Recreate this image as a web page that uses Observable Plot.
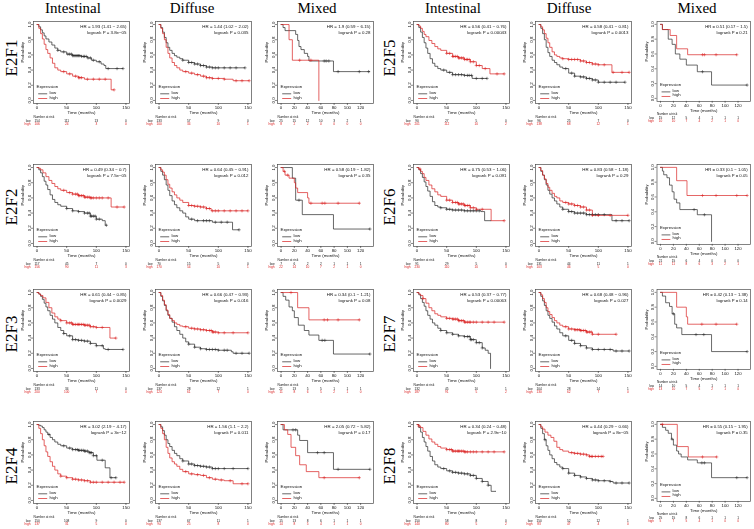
<!DOCTYPE html>
<html><head><meta charset="utf-8">
<script src="https://cdn.jsdelivr.net/npm/d3@7"></script>
<script src="https://cdn.jsdelivr.net/npm/@observablehq/plot@0.6"></script>
<style>
body{margin:0;background:#fff;}
#root{position:relative;width:754px;height:529px;overflow:hidden;background:#fff;}
.hdr{position:absolute;font-family:"Liberation Serif",serif;font-size:15px;transform:translateX(-50%);white-space:nowrap;top:1px;line-height:1;color:#000;}
.gene{position:absolute;font-family:"Liberation Serif",serif;font-size:17px;transform:translate(-50%,-50%) rotate(-90deg);white-space:nowrap;line-height:1;color:#000;}
.panel{position:absolute;will-change:transform;}
</style></head><body><div id="root"></div><script>
// ---------- labels ----------
const genes = ["E2F1","E2F2","E2F3","E2F4","E2F5","E2F6","E2F7","E2F8"];
const subtypes = ["Intestinal","Diffuse","Mixed"];
const yTicks = [0,0.2,0.4,0.6,0.8,1];
const xTicksLong = [0,50,100,150];
const xTicksMixed = [0,20,40,60,80,100,120];

const hrText = [
 ["HR = 1.93 (1.41 − 2.65)","HR = 1.44 (1.02 − 2.02)","HR = 1.9 (0.59 − 6.15)"],
 ["HR = 0.49 (0.34 − 0.7)","HR = 0.64 (0.45 − 0.91)","HR = 0.58 (0.19 − 1.82)"],
 ["HR = 0.61 (0.44 − 0.85)","HR = 0.66 (0.47 − 0.93)","HR = 0.34 (0.1 − 1.21)"],
 ["HR = 3.02 (2.19 − 4.17)","HR = 1.56 (1.1 − 2.2)","HR = 2.05 (0.72 − 5.82)"],
 ["HR = 0.56 (0.41 − 0.76)","HR = 0.58 (0.41 − 0.81)","HR = 0.51 (0.17 − 1.5)"],
 ["HR = 0.75 (0.53 − 1.06)","HR = 0.83 (0.58 − 1.18)","HR = 0.33 (0.1 − 1.05)"],
 ["HR = 0.53 (0.37 − 0.77)","HR = 0.68 (0.48 − 0.96)","HR = 0.42 (0.13 − 1.38)"],
 ["HR = 0.34 (0.24 − 0.48)","HR = 0.44 (0.29 − 0.66)","HR = 0.55 (0.15 − 1.95)"]
];
const pText = [
 ["logrank P = 3.8e−05","logrank P = 0.035","logrank P = 0.28"],
 ["logrank P = 7.5e−05","logrank P = 0.012","logrank P = 0.35"],
 ["logrank P = 0.0029","logrank P = 0.016","logrank P = 0.08"],
 ["logrank P = 3e−12","logrank P = 0.011","logrank P = 0.17"],
 ["logrank P = 0.00043","logrank P = 0.0013","logrank P = 0.21"],
 ["logrank P = 0.091","logrank P = 0.29","logrank P = 0.05"],
 ["logrank P = 0.00063","logrank P = 0.027","logrank P = 0.14"],
 ["logrank P = 2.9e−10","logrank P = 8e−05","logrank P = 0.35"]
];
const riskLow = [
 [[154,111,13,0],[133,57,9,0],[25,15,12,10,3,2,1]],
 [[117,45,7,0],[70,15,5,0],[7,6,2,2,1,1,1]],
 [[133,34,11,0],[137,28,12,1],[21,13,5,5,1,1,1]],
 [[150,108,9,0],[137,67,11,1],[15,13,8,6,1,1,1]],
 [[90,27,5,0],[96,25,7,0],[15,12,5,4,1,1,1]],
 [[91,29,5,0],[131,44,11,1],[21,15,6,4,0,0,0]],
 [[132,45,10,1],[104,28,14,1],[14,10,5,4,1,1,1]],
 [[150,58,8,0],[150,52,12,1],[25,15,8,6,1,1,1]]
];
const riskHigh = [
 [[106,24,3,0],[100,34,10,1],[8,2,2,0,0,0,0]],
 [[156,90,11,3],[170,54,10,1],[22,14,10,7,2,1,0]],
 [[200,100,7,0],[124,61,7,0],[11,8,6,5,2,1,0]],
 [[137,31,5,0],[94,25,8,0],[14,8,5,4,1,1,0]],
 [[201,112,10,2],[138,68,12,1],[10,10,7,4,2,1,0]],
 [[230,110,10,3],[103,46,5,0],[11,11,8,6,3,2,1]],
 [[187,91,5,2],[130,62,7,0],[13,10,7,5,2,1,0]],
 [[140,80,5,2],[83,47,4,0],[5,7,5,4,1,0,0]]
];

// ---------- survival curves: [month, survival] step points; [intestinal, diffuse, mixed] ----------
const E2F1_low = [
 [[0,1],[3,.97],[6,.93],[9,.89],[12,.85],[15,.81],[20,.77],[25,.73],[30,.69],[35,.66],[40,.64],[50,.61],[60,.59],[75,.58],[85,.56],[92,.53],[100,.51],[108,.48],[113,.46],[116,.42],[145,.42]],
 [[0,1],[3,.96],[6,.9],[9,.83],[12,.76],[15,.7],[18,.66],[22,.62],[26,.59],[30,.57],[35,.55],[40,.53],[50,.5],[60,.48],[70,.46],[80,.44],[90,.43],[145,.43]],
 [[0,1],[3,.96],[6,.92],[22,.87],[25,.79],[27,.71],[30,.67],[35,.62],[40,.58],[42,.52],[79,.38],[134,.38]]];
const E2F1_high = [
 [[0,1],[3,.95],[6,.88],[9,.81],[12,.74],[15,.67],[18,.62],[22,.56],[26,.49],[30,.43],[35,.4],[40,.38],[50,.35],[60,.32],[70,.3],[80,.28],[125,.14],[130,.14]],
 [[0,1],[3,.95],[6,.88],[9,.8],[12,.7],[15,.62],[18,.56],[22,.5],[26,.46],[30,.43],[35,.4],[40,.38],[50,.36],[60,.34],[70,.32],[80,.3],[90,.29],[110,.28],[125,.26],[152,.26]],
 [[0,1],[12,.8],[17,.53],[57,0]]];
const E2F1_lowCens = [[35,45,52,55,58,60,62,64,66,68,70,72,75,78,80,83,86,90,95,105,120,135,145],[40,50,55,60,65,70,75,80,85,90,95,100,110,120,130,145],[65,68,72,86,118,132]];
const E2F1_highCens = [[45,55,65,70,72,75,85,95,105,115,130],[45,55,65,75,80,85,90,100,110,130,140,152],[28,45]];

const E2F2_low = [
 [[0,1],[3,.97],[6,.93],[9,.88],[12,.82],[15,.77],[18,.71],[22,.64],[26,.58],[30,.54],[35,.51],[40,.49],[50,.46],[60,.43],[70,.42],[80,.4],[90,.36],[100,.32],[110,.3],[115,.24],[117,.24]],
 [[0,1],[3,.95],[6,.9],[9,.84],[12,.77],[15,.7],[18,.63],[22,.56],[26,.51],[30,.47],[35,.43],[40,.4],[45,.35],[50,.32],[60,.3],[90,.28],[124,.18],[135,.18]],
 [[0,1],[17,.86],[22,.57],[32,.38],[79,.19],[134,.19]]];
const E2F2_high = [
 [[0,1],[3,.99],[6,.97],[10,.93],[15,.88],[20,.83],[25,.79],[30,.75],[35,.72],[40,.7],[50,.67],[60,.65],[70,.63],[80,.61],[90,.6],[125,.48],[147,.48]],
 [[0,1],[3,.97],[6,.94],[9,.9],[12,.84],[15,.78],[18,.73],[22,.68],[26,.64],[30,.6],[35,.57],[40,.54],[50,.5],[60,.49],[70,.48],[80,.46],[88,.43],[150,.43]],
 [[0,1],[3,.95],[6,.9],[12,.86],[20,.8],[22,.73],[25,.67],[40,.6],[42,.53],[118,.53]]];
const E2F2_lowCens = [[50,60,70,80,85,88,90,92,95,98,100,105,117],[55,65,75,80,85,95,105,115,135],[27,134]];
const E2F2_highCens = [[45,55,60,65,68,70,72,75,78,80,82,85,88,90,92,95,100,105,110,120,135,147],[50,55,60,65,70,75,80,85,90,95,100,110,120,130,140,150],[5,10,45,62,66,86,118]];

const E2F3_low = [
 [[0,1],[3,.98],[6,.95],[9,.91],[12,.86],[15,.81],[18,.76],[22,.7],[26,.65],[30,.6],[35,.54],[40,.5],[45,.46],[50,.43],[60,.38],[70,.37],[80,.36],[90,.33],[100,.3],[112,.26],[115,.25],[145,.25]],
 [[0,1],[3,.95],[6,.89],[9,.83],[12,.76],[15,.7],[18,.66],[22,.61],[26,.55],[30,.5],[35,.45],[40,.4],[45,.35],[50,.32],[60,.28],[70,.26],[80,.25],[100,.24],[122,.22],[125,.2],[152,.2]],
 [[0,1],[3,.95],[7,.9],[12,.81],[17,.76],[20,.67],[26,.57],[35,.5],[42,.44],[57,.37],[79,.19],[134,.19]]];
const E2F3_high = [
 [[0,1],[3,.98],[6,.96],[10,.93],[15,.87],[20,.8],[25,.73],[30,.68],[35,.65],[40,.63],[50,.6],[60,.58],[80,.57],[90,.55],[100,.54],[123,.4],[133,.4]],
 [[0,1],[3,.96],[6,.9],[9,.84],[12,.77],[15,.71],[18,.66],[22,.63],[26,.6],[30,.58],[35,.56],[40,.55],[50,.53],[60,.52],[70,.51],[80,.5],[90,.48],[100,.47],[150,.47]],
 [[0,1],[25,.8],[42,.64],[118,.64]]];
const E2F3_lowCens = [[45,55,60,65,70,75,80,85,90,100,110,120,145],[50,60,70,80,85,90,95,100,110,115,130,140,152],[62,66,134]];
const E2F3_highCens = [[40,50,55,58,60,62,65,68,70,72,75,78,80,82,85,88,90,95,100,110,133],[45,55,60,65,70,75,80,85,88,90,92,95,100,110,125,150],[15,65,70,86,118]];

const E2F4_low = [
 [[0,1],[3,.99],[6,.98],[9,.96],[12,.93],[15,.9],[18,.87],[22,.83],[26,.8],[30,.77],[35,.74],[40,.72],[50,.69],[60,.67],[70,.66],[80,.65],[88,.63],[95,.59],[101,.53],[115,.43],[123,.3],[133,.3]],
 [[0,1],[3,.97],[6,.92],[9,.86],[12,.8],[15,.75],[18,.71],[22,.66],[26,.62],[30,.59],[35,.55],[40,.52],[50,.48],[60,.46],[70,.45],[80,.44],[90,.42],[150,.42]],
 [[0,1],[3,.93],[25,.86],[28,.79],[40,.63],[79,.41],[134,.41]]];
const E2F4_high = [
 [[0,1],[3,.95],[6,.88],[9,.8],[12,.72],[15,.64],[18,.58],[22,.51],[26,.45],[30,.4],[35,.35],[40,.32],[50,.3],[60,.28],[70,.27],[80,.26],[90,.24],[147,.24]],
 [[0,1],[3,.95],[6,.88],[9,.8],[12,.7],[15,.62],[18,.56],[22,.51],[26,.48],[30,.45],[35,.41],[40,.38],[50,.35],[60,.34],[70,.33],[80,.3],[90,.28],[100,.27],[110,.26],[125,.22],[150,.22]],
 [[0,1],[5,.93],[10,.87],[15,.7],[22,.59],[28,.47],[38,.38],[57,.3],[118,.3]]];
const E2F4_lowCens = [[20,45,55,60,65,68,70,72,75,78,80,82,85,88,90,92,95,100,110,125,133],[40,50,55,60,65,70,75,80,85,90,95,100,110,125,150],[18,22,55,65,86,134]];
const E2F4_highCens = [[40,50,60,65,70,75,80,85,90,95,100,110,120,130,140,147],[45,55,65,75,85,95,105,120,140,150],[65,118]];

const E2F5_low = [
 [[0,1],[3,.96],[6,.9],[9,.83],[12,.76],[15,.69],[18,.62],[22,.55],[26,.49],[30,.45],[35,.42],[40,.4],[50,.37],[60,.34],[80,.33],[93,.29],[118,.29]],
 [[0,1],[3,.95],[6,.88],[9,.8],[12,.7],[15,.63],[18,.58],[22,.53],[26,.5],[30,.47],[35,.44],[40,.42],[50,.36],[60,.32],[70,.31],[80,.29],[90,.27],[100,.24],[145,.24]],
 [[0,1],[3,.93],[12,.8],[18,.73],[23,.6],[30,.53],[40,.45],[57,.36],[79,.18],[134,.18]]];
const E2F5_high = [
 [[0,1],[3,.98],[6,.95],[9,.91],[12,.87],[15,.84],[20,.79],[25,.75],[30,.71],[35,.68],[40,.66],[50,.62],[60,.58],[70,.56],[80,.54],[90,.51],[100,.46],[110,.42],[123,.35],[147,.35]],
 [[0,1],[3,.97],[6,.93],[9,.88],[12,.82],[15,.76],[18,.7],[22,.64],[26,.6],[30,.58],[35,.56],[40,.55],[50,.54],[70,.52],[80,.5],[90,.48],[100,.47],[123,.37],[152,.37]],
 [[0,1],[3,.93],[15,.85],[25,.67],[42,.59],[118,.59]]];
const E2F5_lowCens = [[45,55,60,65,70,75,80,85,88,92,100,110,118],[45,55,60,70,75,80,85,90,95,100,110,120,130,145],[65,134]];
const E2F5_highCens = [[50,55,60,62,65,68,70,72,75,78,80,83,85,88,90,95,100,105,115,135,147],[40,50,55,60,65,70,75,80,85,90,95,100,110,125,140,152],[65,68,86,118]];

const E2F6_low = [
 [[0,1],[3,.97],[6,.92],[9,.87],[12,.81],[15,.75],[18,.69],[22,.62],[26,.55],[30,.5],[35,.48],[40,.47],[50,.45],[60,.44],[80,.43],[108,.42],[114,.3],[125,.3]],
 [[0,1],[3,.95],[6,.9],[9,.84],[12,.77],[15,.7],[18,.65],[22,.6],[26,.56],[30,.52],[35,.48],[40,.45],[50,.42],[60,.4],[80,.38],[123,.3],[152,.3]],
 [[0,1],[3,.95],[5,.9],[10,.86],[14,.76],[18,.67],[21,.57],[25,.52],[30,.43],[57,.36],[79,0]]];
const E2F6_high = [
 [[0,1],[3,.98],[6,.95],[9,.92],[12,.87],[15,.83],[20,.77],[25,.72],[30,.68],[35,.64],[40,.62],[50,.57],[60,.54],[70,.52],[80,.5],[90,.47],[100,.45],[125,.3],[147,.3]],
 [[0,1],[3,.96],[6,.9],[9,.85],[12,.79],[15,.74],[18,.7],[22,.66],[26,.62],[30,.6],[35,.56],[40,.54],[50,.52],[60,.5],[70,.48],[80,.44],[90,.37],[150,.37]],
 [[0,1],[25,.82],[41,.62],[134,.62]]];
const E2F6_lowCens = [[40,50,55,60,65,70,75,80,85,90,95,100,105],[40,50,55,60,65,70,75,80,85,90,95,100,110,130,140,152],[52,68]];
const E2F6_highCens = [[5,50,55,60,65,68,70,72,75,78,80,82,85,88,90,95,100,110,147],[45,50,55,60,65,70,75,80,85,90,100,120,150],[65,86,118,134]];

const E2F7_low = [
 [[0,1],[3,.97],[6,.92],[9,.87],[12,.82],[15,.76],[18,.7],[22,.65],[26,.6],[30,.57],[35,.53],[40,.5],[50,.47],[60,.45],[70,.43],[80,.42],[90,.38],[100,.34],[110,.27],[115,.24],[120,.2],[124,0]],
 [[0,1],[3,.95],[6,.89],[9,.83],[12,.76],[15,.7],[18,.66],[22,.61],[26,.56],[30,.52],[35,.47],[40,.43],[50,.37],[60,.33],[70,.3],[80,.27],[90,.25],[125,.23],[152,.23]],
 [[0,1],[3,.95],[8,.86],[14,.81],[18,.71],[22,.57],[25,.52],[33,.43],[79,.2],[134,.2]]];
const E2F7_high = [
 [[0,1],[3,.98],[6,.96],[10,.92],[15,.86],[20,.8],[25,.76],[30,.72],[35,.7],[40,.68],[50,.66],[60,.65],[70,.63],[80,.61],[147,.61]],
 [[0,1],[3,.97],[6,.92],[9,.87],[12,.8],[15,.75],[18,.71],[22,.67],[26,.63],[30,.6],[35,.57],[40,.55],[50,.52],[60,.51],[70,.5],[80,.48],[90,.45],[130,.45]],
 [[0,1],[25,.8],[40,.67],[42,.57],[118,.57]]];
const E2F7_lowCens = [[40,50,60,70,80,85,88,90,92,95,100,105,110],[45,55,60,70,80,90,100,110,120,130,140,152],[20,55,67,134]];
const E2F7_highCens = [[10,50,55,60,62,65,68,70,72,75,78,80,82,85,88,90,95,100,110,120,130,147],[45,50,55,60,62,65,68,70,72,75,78,80,82,85,88,90,100,130],[64,86,118]];

const E2F8_low = [
 [[0,1],[3,.96],[6,.9],[9,.83],[12,.77],[15,.71],[18,.65],[22,.58],[26,.52],[30,.47],[35,.44],[40,.42],[50,.39],[60,.37],[70,.36],[80,.35],[90,.33],[100,.29],[110,.25],[120,.2],[125,.12],[133,.12]],
 [[0,1],[3,.95],[6,.88],[9,.8],[12,.72],[15,.66],[18,.6],[22,.55],[26,.5],[30,.47],[35,.44],[40,.42],[50,.36],[60,.33],[70,.31],[80,.29],[90,.27],[100,.26],[120,.25],[125,.23],[152,.23]],
 [[0,1],[3,.96],[8,.92],[12,.88],[17,.8],[20,.72],[25,.64],[28,.6],[32,.56],[42,.52],[57,.48],[79,.28],[134,.28]]];
const E2F8_high = [
 [[0,1],[3,.98],[6,.96],[10,.91],[15,.86],[20,.81],[25,.77],[30,.74],[35,.71],[40,.69],[50,.67],[60,.65],[80,.64],[147,.64]],
 [[0,1],[3,.97],[6,.94],[10,.9],[15,.86],[20,.83],[25,.78],[30,.7],[35,.67],[40,.65],[50,.63],[60,.62],[70,.61],[80,.6],[85,.58],[108,.58]],
 [[0,1],[26,.7],[43,.56],[87,.56]]];
const E2F8_lowCens = [[45,55,60,65,70,75,80,85,90,95,100,110,120],[10,40,50,60,70,80,90,95,100,110,120,130,140,152],[18,64,68,118,134]];
const E2F8_highCens = [[3,50,55,58,60,62,65,68,70,72,75,78,80,82,85,90,95,100,110,120,130,147],[55,60,65,70,75,80,85,88,90,95,100,105,108],[3,65,87]];

// registry built from the named arrays
const lowCurves = {E2F1:E2F1_low,E2F2:E2F2_low,E2F3:E2F3_low,E2F4:E2F4_low,E2F5:E2F5_low,E2F6:E2F6_low,E2F7:E2F7_low,E2F8:E2F8_low};
const highCurves = {E2F1:E2F1_high,E2F2:E2F2_high,E2F3:E2F3_high,E2F4:E2F4_high,E2F5:E2F5_high,E2F6:E2F6_high,E2F7:E2F7_high,E2F8:E2F8_high};
const lowCens = {E2F1:E2F1_lowCens,E2F2:E2F2_lowCens,E2F3:E2F3_lowCens,E2F4:E2F4_lowCens,E2F5:E2F5_lowCens,E2F6:E2F6_lowCens,E2F7:E2F7_lowCens,E2F8:E2F8_lowCens};
const highCens = {E2F1:E2F1_highCens,E2F2:E2F2_highCens,E2F3:E2F3_highCens,E2F4:E2F4_highCens,E2F5:E2F5_highCens,E2F6:E2F6_highCens,E2F7:E2F7_highCens,E2F8:E2F8_highCens};

// ---------- layout ----------
const frameLefts = [33,155,277];
const halfOffset = 380;
const frameTops = [21,164,289,421];
const frameW = 96, frameH = 82;
const headerCenters = [[73,192,317],[453,569,697]];
const geneCenterY = [58,207,334,466];
const geneCenterX = [11,389];
const ML = 20, MR = 4, MT = 3, MB = 26;
const LOW_C = "#262626", HIGH_C = "#d91f1f";
const FONT = "Liberation Sans, Arial, sans-serif";

function stepAt(curve, t) { let v = curve[0][1]; for (const [x, y] of curve) { if (x <= t) v = y; else break; } return v; }
const hline = {draw(ctx, size) { const h = Math.sqrt(size / Math.PI); ctx.moveTo(-h, 0); ctx.lineTo(h, 0); }};

const root = document.getElementById("root");
for (let h = 0; h < 2; h++) {
  subtypes.forEach((s, i) => {
    const d = document.createElement("div");
    d.className = "hdr"; d.textContent = s;
    d.style.left = headerCenters[h][i] + "px";
    root.appendChild(d);
  });
}

genes.forEach((g, gi) => {
  const half = gi < 4 ? 0 : 1, row = gi % 4;
  const lab = document.createElement("div");
  lab.className = "gene"; lab.textContent = g;
  lab.style.left = geneCenterX[half] + "px"; lab.style.top = geneCenterY[row] + "px";
  root.appendChild(lab);

  subtypes.forEach((s, si) => {
    const mixed = si === 2;
    const xt = mixed ? xTicksMixed : xTicksLong;
    const xdom = mixed ? [-5.4, 139.4] : [-6, 156];
    const lo = lowCurves[g][si], hi = highCurves[g][si];
    const loC = lowCens[g][si], hiC = highCens[g][si];
    const rl = riskLow[gi][si].map((n, k) => ({t: xt[k], n}));
    const rh = riskHigh[gi][si].map((n, k) => ({t: xt[k], n}));
    const fs = 4.4;
    const chart = Plot.plot({
      width: ML + frameW + MR, height: MT + frameH + MB,
      marginLeft: ML, marginRight: MR, marginTop: MT, marginBottom: MB,
      style: {background: "transparent", overflow: "visible", fontFamily: FONT},
      x: {domain: xdom}, y: {domain: [-0.04, 1.04]},
      marks: [
        Plot.frame({stroke: "#4a4a4a", strokeWidth: 0.7}),
        Plot.axisX({ticks: xt, tickFormat: d => String(d), tickSize: 2, tickPadding: 0.8, fontSize: fs, label: null, stroke: "#333", strokeWidth: 0.6, fill: "#111"}),
        Plot.axisY({ticks: yTicks, tickFormat: () => "", tickSize: 2, label: null, stroke: "#333", strokeWidth: 0.6}),
        Plot.text(yTicks, {y: d => d, text: d => d.toFixed(1), frameAnchor: "left", dx: -3, rotate: -90, textAnchor: "middle", lineAnchor: "bottom", fontSize: fs, fill: "#111"}),
        Plot.text(["Probability"], {frameAnchor: "left", dx: -10.5, rotate: -90, fontSize: fs, fill: "#111"}),
        Plot.text(["Time (months)"], {frameAnchor: "bottom", dy: 10.5, fontSize: fs, fill: "#111"}),
        Plot.line(lo, {x: d => d[0], y: d => d[1], curve: "step-after", stroke: LOW_C, strokeWidth: 0.7}),
        Plot.line(hi, {x: d => d[0], y: d => d[1], curve: "step-after", stroke: HIGH_C, strokeWidth: 0.7}),
        Plot.dot(loC, {x: d => d, y: d => stepAt(lo, d), symbol: "plus", r: 1.15, stroke: LOW_C, strokeWidth: 0.5}),
        Plot.dot(hiC, {x: d => d, y: d => stepAt(hi, d), symbol: "plus", r: 1.15, stroke: HIGH_C, strokeWidth: 0.5}),
        Plot.text([hrText[gi][si] + "\n" + pText[gi][si]], {frameAnchor: "top-right", dx: -3, dy: 1.8, lineAnchor: "top", textAnchor: "end", lineHeight: 1.45, fontSize: fs, fill: "#111"}),
        Plot.text(["Expression"], {frameAnchor: "bottom-left", dx: 3, dy: -15.3, textAnchor: "start", fontSize: fs, fill: "#111"}),
        Plot.dot(["low"], {frameAnchor: "bottom-left", dx: 9.2, dy: -9.7, symbol: hline, r: 4.5, stroke: LOW_C, fill: "none", strokeWidth: 0.7}),
        Plot.dot(["high"], {frameAnchor: "bottom-left", dx: 9.2, dy: -5, symbol: hline, r: 4.5, stroke: HIGH_C, fill: "none", strokeWidth: 0.7}),
        Plot.text(["low"], {frameAnchor: "bottom-left", dx: 16, dy: -9.7, textAnchor: "start", fontSize: fs, fill: "#111"}),
        Plot.text(["high"], {frameAnchor: "bottom-left", dx: 16, dy: -5, textAnchor: "start", fontSize: fs, fill: "#111"}),
        Plot.text(["Number at risk"], {frameAnchor: "bottom-left", dx: 0, dy: 14.5, textAnchor: "start", fontSize: 3.2, fill: "#111"}),
        Plot.text(["low"], {frameAnchor: "bottom-left", dx: -3, dy: 18, textAnchor: "end", fontSize: 3.2, fill: "#111"}),
        Plot.text(["high"], {frameAnchor: "bottom-left", dx: -3, dy: 21.5, textAnchor: "end", fontSize: 3.2, fill: HIGH_C}),
        Plot.text(rl, {x: "t", text: "n", frameAnchor: "bottom", dy: 18, fontSize: 3.2, fill: "#111"}),
        Plot.text(rh, {x: "t", text: "n", frameAnchor: "bottom", dy: 21.5, fontSize: 3.2, fill: HIGH_C})
      ]
    });
    const wrap = document.createElement("div");
    wrap.className = "panel";
    wrap.style.left = (frameLefts[si] + half * halfOffset - ML) + "px";
    wrap.style.top = (frameTops[row] - MT) + "px";
    wrap.appendChild(chart);
    root.appendChild(wrap);
  });
});
</script></body></html>
